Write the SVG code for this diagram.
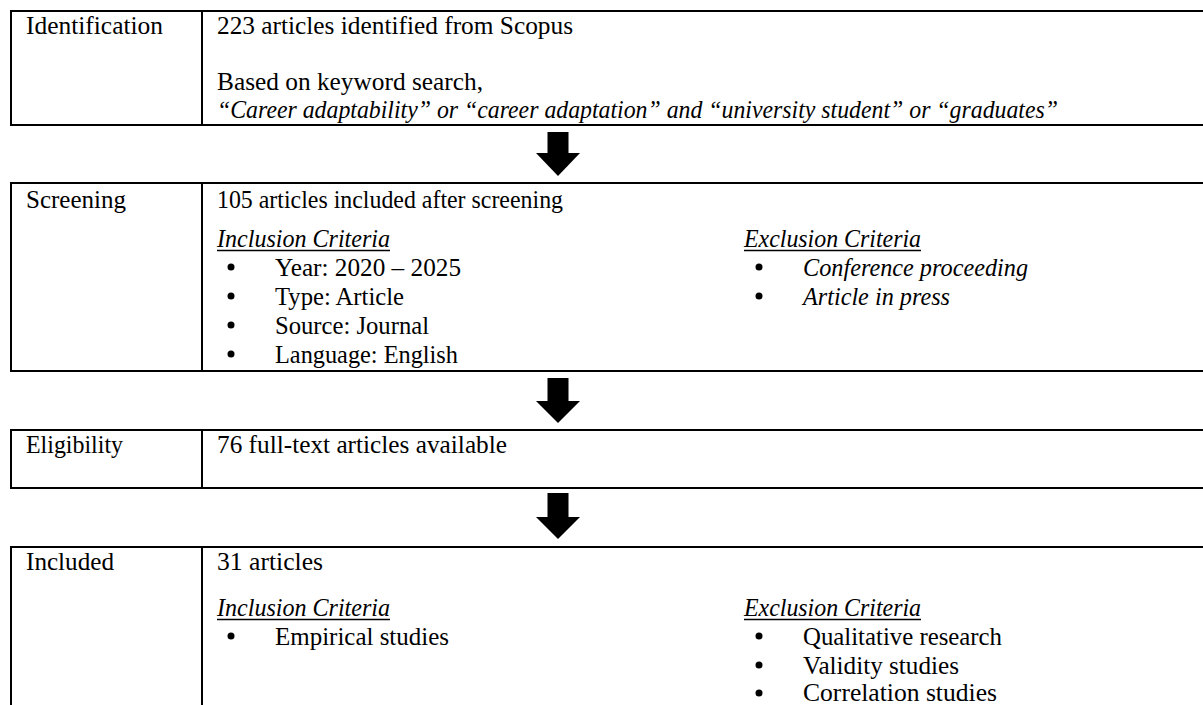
<svg xmlns="http://www.w3.org/2000/svg" width="1203" height="705" viewBox="0 0 1203 705">
<style>
.b{stroke:#000;stroke-width:2;fill:none}
.t{font-family:"Liberation Serif","Times New Roman",serif;font-size:25px;fill:#000}
.i{font-style:italic}
.u{stroke:#000;stroke-width:1.5}
.d{fill:#000}
.ar{fill:#000}
</style>
<rect width="1203" height="705" fill="#fff"/>
<g id="identification">
<path class="b" d="M10 11H1203M10 125H1203M11 11V125M202 11V125"/>
<text class="t" x="26" y="34" textLength="137" lengthAdjust="spacingAndGlyphs">Identification</text>
<text class="t" x="217" y="34" textLength="356" lengthAdjust="spacingAndGlyphs">223 articles identified from Scopus</text>
<text class="t" x="217" y="90" textLength="266" lengthAdjust="spacingAndGlyphs">Based on keyword search,</text>
<text class="t i" x="217" y="118" textLength="841" lengthAdjust="spacingAndGlyphs">“Career adaptability” or “career adaptation” and “university student” or “graduates”</text>
</g>
<g id="screening">
<path class="b" d="M10 183H1203M10 371H1203M11 183V371M202 183V371"/>
<text class="t" x="26" y="208" textLength="100" lengthAdjust="spacingAndGlyphs">Screening</text>
<text class="t" x="217" y="208" textLength="346" lengthAdjust="spacingAndGlyphs">105 articles included after screening</text>
<text class="t i" x="217" y="247" textLength="173" lengthAdjust="spacingAndGlyphs">Inclusion Criteria</text>
<line class="u" x1="217" y1="250.5" x2="390" y2="250.5"/>
<circle class="d" cx="231" cy="267" r="3.5"/>
<circle class="d" cx="231" cy="296" r="3.5"/>
<circle class="d" cx="231" cy="325" r="3.5"/>
<circle class="d" cx="231" cy="354" r="3.5"/>
<text class="t" x="275" y="276" textLength="186" lengthAdjust="spacingAndGlyphs">Year: 2020 – 2025</text>
<text class="t" x="275" y="305" textLength="129" lengthAdjust="spacingAndGlyphs">Type: Article</text>
<text class="t" x="275" y="334" textLength="154" lengthAdjust="spacingAndGlyphs">Source: Journal</text>
<text class="t" x="275" y="363" textLength="183" lengthAdjust="spacingAndGlyphs">Language: English</text>
<text class="t i" x="744" y="247" textLength="177" lengthAdjust="spacingAndGlyphs">Exclusion Criteria</text>
<line class="u" x1="744" y1="250.5" x2="921" y2="250.5"/>
<circle class="d" cx="759" cy="267" r="3.5"/>
<circle class="d" cx="759" cy="296" r="3.5"/>
<text class="t i" x="803" y="276" textLength="225" lengthAdjust="spacingAndGlyphs">Conference proceeding</text>
<text class="t i" x="803" y="305" textLength="147" lengthAdjust="spacingAndGlyphs">Article in press</text>
</g>
<g id="eligibility">
<path class="b" d="M10 430H1203M10 488H1203M11 430V488M202 430V488"/>
<text class="t" x="26" y="453" textLength="97" lengthAdjust="spacingAndGlyphs">Eligibility</text>
<text class="t" x="217" y="453" textLength="290" lengthAdjust="spacingAndGlyphs">76 full-text articles available</text>
</g>
<g id="included">
<path class="b" d="M10 547H1203M11 547V705M202 547V705"/>
<text class="t" x="26" y="570" textLength="88" lengthAdjust="spacingAndGlyphs">Included</text>
<text class="t" x="217" y="570" textLength="106" lengthAdjust="spacingAndGlyphs">31 articles</text>
<text class="t i" x="217" y="616" textLength="173" lengthAdjust="spacingAndGlyphs">Inclusion Criteria</text>
<line class="u" x1="217" y1="619.5" x2="390" y2="619.5"/>
<circle class="d" cx="231" cy="636" r="3.5"/>
<text class="t" x="275" y="645" textLength="174" lengthAdjust="spacingAndGlyphs">Empirical studies</text>
<text class="t i" x="744" y="616" textLength="177" lengthAdjust="spacingAndGlyphs">Exclusion Criteria</text>
<line class="u" x1="744" y1="619.5" x2="921" y2="619.5"/>
<circle class="d" cx="759" cy="636" r="3.5"/>
<circle class="d" cx="759" cy="665" r="3.5"/>
<circle class="d" cx="759" cy="693" r="3.5"/>
<text class="t" x="803" y="645" textLength="199" lengthAdjust="spacingAndGlyphs">Qualitative research</text>
<text class="t" x="803" y="674" textLength="156" lengthAdjust="spacingAndGlyphs">Validity studies</text>
<text class="t" x="803" y="701" textLength="194" lengthAdjust="spacingAndGlyphs">Correlation studies</text>
</g>
<g id="connectors">
<polygon class="ar" points="547.5,132 568.5,132 568.5,153 580,153 558,176 536,153 547.5,153"/>
<polygon class="ar" points="547.5,378 568.5,378 568.5,401 580,401 558,423 536,401 547.5,401"/>
<polygon class="ar" points="547.5,493 568.5,493 568.5,517 580,517 558,539 536,517 547.5,517"/>
</g>
</svg>
